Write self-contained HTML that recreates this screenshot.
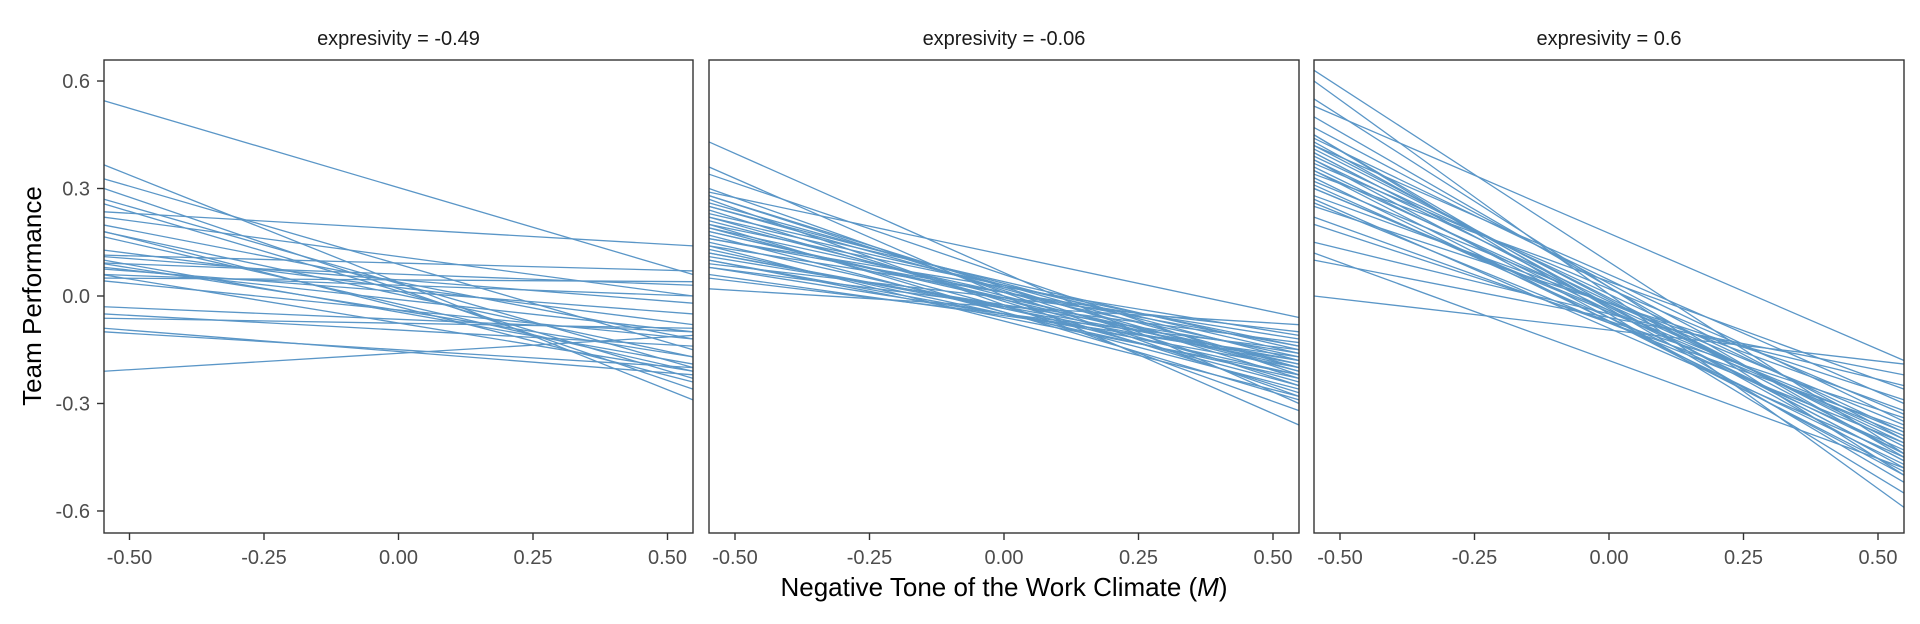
<!DOCTYPE html>
<html><head><meta charset="utf-8"><style>
html,body{margin:0;padding:0;background:#fff;}
svg{display:block;font-family:"Liberation Sans",sans-serif;}
</style></head><body>
<svg id="s" width="1920" height="624" xmlns="http://www.w3.org/2000/svg">
<rect width="1920" height="624" fill="#fff"/>
<text x="34" y="296" font-size="26" text-anchor="middle" transform="rotate(-90 34 296)" dominant-baseline="middle" fill="#000">Team Performance</text>
<text x="1004" y="596" font-size="26" text-anchor="middle" fill="#000">Negative Tone of the Work Climate (<tspan font-style="italic">M</tspan>)</text>
</svg>
<script>
var s=document.getElementById('s'),NS='http://www.w3.org/2000/svg';
function el(t,a,txt){var e=document.createElementNS(NS,t);for(var k in a)e.setAttribute(k,a[k]);if(txt!=null)e.textContent=txt;s.appendChild(e);return e;}
var T=60,B=533;
function Y(v){return 296-358.3*v;}
var panels=[
{l:104,r:693,title:"expresivity = -0.49",
L:[0.545,0.366,0.327,0.30,0.27,0.257,0.235,0.22,0.198,0.179,0.165,0.128,0.114,0.10,0.092,0.08,0.075,0.059,0.05,0.042,0.06,-0.03,-0.05,-0.062,-0.09,-0.10,-0.21,0.11,0.09,0.18],
R:[0.06,-0.29,-0.15,-0.26,-0.2,-0.23,0.14,0.0,-0.12,-0.17,-0.21,-0.08,0.07,-0.19,0.03,-0.1,-0.05,-0.21,0.04,-0.12,0.0,-0.1,-0.14,-0.09,-0.22,-0.2,-0.11,-0.02,-0.17,-0.24]},
{l:709,r:1299,title:"expresivity = -0.06",
L:[0.43,0.36,0.34,0.30,0.29,0.28,0.27,0.26,0.25,0.24,0.23,0.22,0.21,0.20,0.19,0.18,0.17,0.16,0.15,0.14,0.13,0.12,0.11,0.10,0.09,0.08,0.06,0.05,0.02,0.25,0.19,0.16,0.12,0.22,0.14,0.18,0.28,0.08,0.2,0.1],
R:[-0.30,-0.36,-0.22,-0.28,-0.06,-0.25,-0.32,-0.20,-0.18,-0.27,-0.15,-0.24,-0.21,-0.29,-0.17,-0.19,-0.26,-0.14,-0.22,-0.12,-0.23,-0.18,-0.16,-0.20,-0.10,-0.13,-0.17,-0.15,-0.08,-0.21,-0.25,-0.11,-0.19,-0.16,-0.28,-0.2,-0.23,-0.18,-0.14,-0.22]},
{l:1314,r:1904,title:"expresivity = 0.6",
L:[0.63,0.60,0.55,0.53,0.50,0.47,0.45,0.44,0.43,0.42,0.41,0.40,0.39,0.38,0.37,0.36,0.35,0.34,0.33,0.32,0.31,0.30,0.28,0.27,0.26,0.25,0.22,0.20,0.15,0.12,0.10,0.0,0.42,0.38,0.35,0.3,0.45,0.4],
R:[-0.44,-0.59,-0.50,-0.18,-0.45,-0.40,-0.52,-0.35,-0.48,-0.30,-0.42,-0.46,-0.38,-0.50,-0.33,-0.44,-0.40,-0.26,-0.47,-0.36,-0.43,-0.39,-0.32,-0.45,-0.41,-0.29,-0.37,-0.34,-0.25,-0.48,-0.22,-0.19,-0.44,-0.41,-0.49,-0.38,-0.55,-0.46]}
];
panels.forEach(function(p){
  var c=(p.l+p.r)/2, sc=538;
  el('text',{x:c,y:45,'font-size':20,'text-anchor':'middle',fill:'#1a1a1a'},p.title);
  for(var i=0;i<p.L.length;i++){
    el('line',{x1:p.l,y1:Y(p.L[i]),x2:p.r,y2:Y(p.R[i]),stroke:'#5a96c7','stroke-width':1.3});
  }
  el('rect',{x:p.l,y:T,width:p.r-p.l,height:B-T,fill:'none',stroke:'#333','stroke-width':1.4});
  [-0.5,-0.25,0,0.25,0.5].forEach(function(t){
    var x=c+t*sc;
    el('line',{x1:x,y1:B,x2:x,y2:B+7,stroke:'#333','stroke-width':1.4});
    el('text',{x:x,y:564,'font-size':20,'text-anchor':'middle',fill:'#4d4d4d'},t.toFixed(2));
  });
});
[0.6,0.3,0,-0.3,-0.6].forEach(function(v){
  var y=Y(v);
  el('line',{x1:97,y1:y,x2:104,y2:y,stroke:'#333','stroke-width':1.4});
  el('text',{x:90,y:y+7,'font-size':20,'text-anchor':'end',fill:'#4d4d4d'},v.toFixed(1));
});
</script>
</body></html>
